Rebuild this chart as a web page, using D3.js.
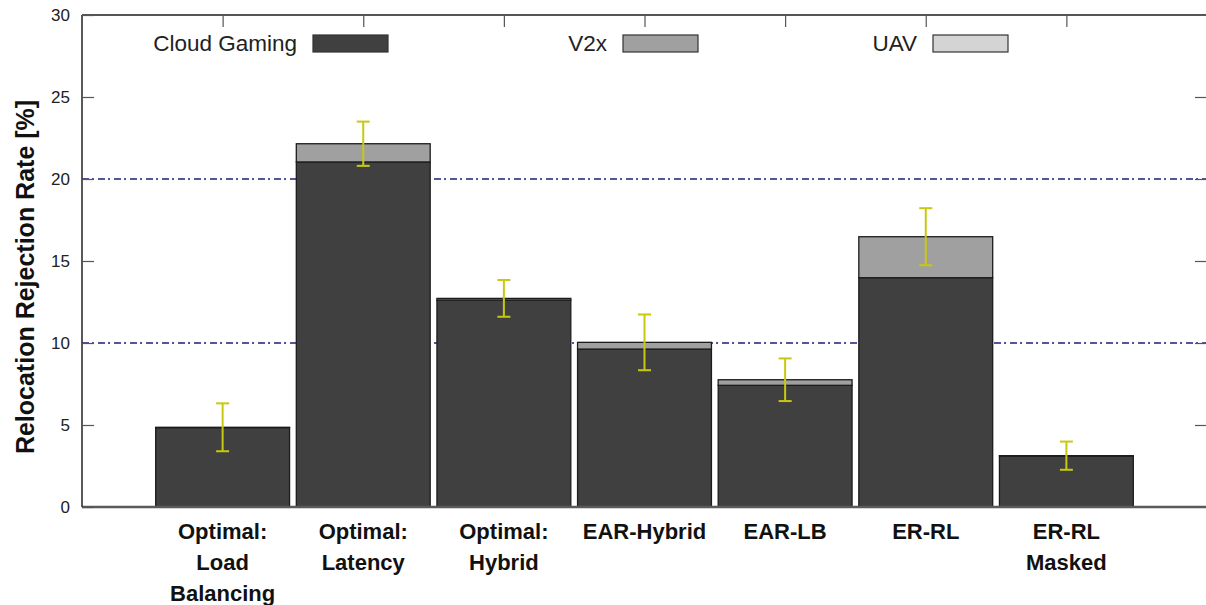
<!DOCTYPE html>
<html>
<head>
<meta charset="utf-8">
<script src="https://cdn.jsdelivr.net/npm/d3@7"></script>
<style>
  html, body { margin: 0; padding: 0; background: #fff; }
  svg { display: block; }
</style>
</head>
<body>
<svg id="chart" width="1206" height="605"></svg>
<script>
// Relocation rejection rate per strategy, stacked by service type (%)
const categories = [
  ["Optimal:", "Load", "Balancing"],
  ["Optimal:", "Latency"],
  ["Optimal:", "Hybrid"],
  ["EAR-Hybrid"],
  ["EAR-LB"],
  ["ER-RL"],
  ["ER-RL", "Masked"]
];
const seriesNames = ["Cloud Gaming", "V2x", "UAV"];
const cloudGaming = [4.84, 21.04, 12.62, 9.63, 7.42, 13.98, 3.11];
const v2x         = [0.02, 1.11, 0.10, 0.41, 0.34, 2.50, 0.02];
const uav         = [0.00, 0.00, 0.00, 0.00, 0.00, 0.00, 0.00];
// half-width of the error interval around each total
const errHalf     = [1.46, 1.35, 1.12, 1.70, 1.30, 1.74, 0.86];
const yTicks = [0, 5, 10, 15, 20, 25, 30];
const refLines = [10, 20];
const seriesFill = ["#404040", "#a0a0a0", "#d4d4d4"];

const svg = d3.select("#chart");
const plot = { left: 82, right: 1207, top: 15, bottom: 507 };

const x = d3.scaleLinear().domain([-1, categories.length]).range([plot.left, plot.right]);
const y = d3.scaleLinear().domain([0, 30]).range([plot.bottom, plot.top]);
const halfBar = 0.476;

// dash-dot reference lines, behind the bars
svg.append("g").selectAll("line").data(refLines).join("line")
  .attr("x1", plot.left).attr("x2", plot.right)
  .attr("y1", d => y(d)).attr("y2", d => y(d))
  .attr("stroke", "#1e1e78").attr("stroke-width", 1.6)
  .attr("stroke-dasharray", "7,3,2,4");

// stacked bars
const stackData = categories.map((c, i) => ({ i, "Cloud Gaming": cloudGaming[i], "V2x": v2x[i], "UAV": uav[i] }));
const stacked = d3.stack().keys(seriesNames)(stackData);

svg.append("g").selectAll("g").data(stacked).join("g")
  .attr("fill", (d, k) => seriesFill[k])
  .selectAll("rect").data(d => d.filter(s => s[1] - s[0] > 0)).join("rect")
  .attr("x", d => x(d.data.i - halfBar))
  .attr("width", d => x(d.data.i + halfBar) - x(d.data.i - halfBar))
  .attr("y", d => y(d[1]))
  .attr("height", d => y(d[0]) - y(d[1]))
  .attr("stroke", "#1c1c1c").attr("stroke-width", 1.3);

// error bars centred on the stack totals
const totals = categories.map((c, i) => cloudGaming[i] + v2x[i] + uav[i]);
const eb = svg.append("g").attr("stroke", "#c8c810").attr("stroke-width", 2).attr("fill", "none");
totals.forEach((t, i) => {
  const cx = x(i), lo = y(t - errHalf[i]), hi = y(t + errHalf[i]);
  eb.append("line").attr("x1", cx).attr("x2", cx).attr("y1", lo).attr("y2", hi);
  eb.append("line").attr("x1", cx - 6.5).attr("x2", cx + 6.5).attr("y1", lo).attr("y2", lo);
  eb.append("line").attr("x1", cx - 6.5).attr("x2", cx + 6.5).attr("y1", hi).attr("y2", hi);
});

// frame
svg.append("line").attr("x1", plot.left).attr("x2", plot.right).attr("y1", plot.top).attr("y2", plot.top)
  .attr("stroke", "#555").attr("stroke-width", 2);
svg.append("line").attr("x1", plot.left).attr("x2", plot.right).attr("y1", plot.bottom).attr("y2", plot.bottom)
  .attr("stroke", "#5a5a5a").attr("stroke-width", 2.6);
svg.append("line").attr("x1", plot.left).attr("x2", plot.left).attr("y1", plot.top).attr("y2", plot.bottom)
  .attr("stroke", "#222").attr("stroke-width", 1.5);

// y axis with inward ticks, mirrored on the right
const yAxis = svg.append("g").attr("transform", `translate(${plot.left},0)`)
  .call(d3.axisLeft(y).tickValues(yTicks).tickSizeInner(-12).tickSizeOuter(0).tickPadding(12));
yAxis.select(".domain").remove();
yAxis.selectAll("line").attr("stroke", "#555").attr("stroke-width", 1.2);
yAxis.selectAll("text").attr("font-family", "Liberation Sans, Arial, sans-serif")
  .attr("font-size", 17).attr("fill", "#222");

const yAxisR = svg.append("g").attr("transform", `translate(${plot.right},0)`)
  .call(d3.axisRight(y).tickValues(yTicks.slice(1, -1)).tickSizeInner(-12).tickSizeOuter(0).tickFormat(""));
yAxisR.select(".domain").remove();
yAxisR.selectAll("line").attr("stroke", "#555").attr("stroke-width", 1.2);

// top axis ticks at the bar centres
const xTop = svg.append("g").attr("transform", `translate(0,${plot.top})`)
  .call(d3.axisTop(x).tickValues(d3.range(categories.length)).tickSizeInner(-12).tickSizeOuter(0).tickFormat(""));
xTop.select(".domain").remove();
xTop.selectAll("line").attr("stroke", "#555").attr("stroke-width", 1.2);

// category labels
const xl = svg.append("g")
  .attr("font-family", "Liberation Sans, Arial, sans-serif")
  .attr("font-weight", "bold").attr("font-size", 22).attr("fill", "#111")
  .attr("text-anchor", "middle");
categories.forEach((lines, i) => {
  lines.forEach((s, j) => {
    xl.append("text").attr("x", x(i)).attr("y", 539 + j * 31).text(s);
  });
});

// y axis title
svg.append("text")
  .attr("transform", `translate(34,277) rotate(-90)`)
  .attr("text-anchor", "middle")
  .attr("font-family", "Liberation Sans, Arial, sans-serif")
  .attr("font-weight", "bold").attr("font-size", 25).attr("fill", "#111")
  .text("Relocation Rejection Rate [%]");

// legend
const legend = svg.append("g").attr("font-family", "Liberation Sans, Arial, sans-serif")
  .attr("font-size", 22.5).attr("fill", "#222");
seriesNames.forEach((name, k) => {
  const sx = 313 + k * 310;
  legend.append("text").attr("x", sx - 16).attr("y", 51).attr("text-anchor", "end").text(name);
  legend.append("rect").attr("x", sx).attr("y", 35).attr("width", 75).attr("height", 17)
    .attr("fill", seriesFill[k]).attr("stroke", "#333").attr("stroke-width", 1.2);
});
</script>
</body>
</html>
